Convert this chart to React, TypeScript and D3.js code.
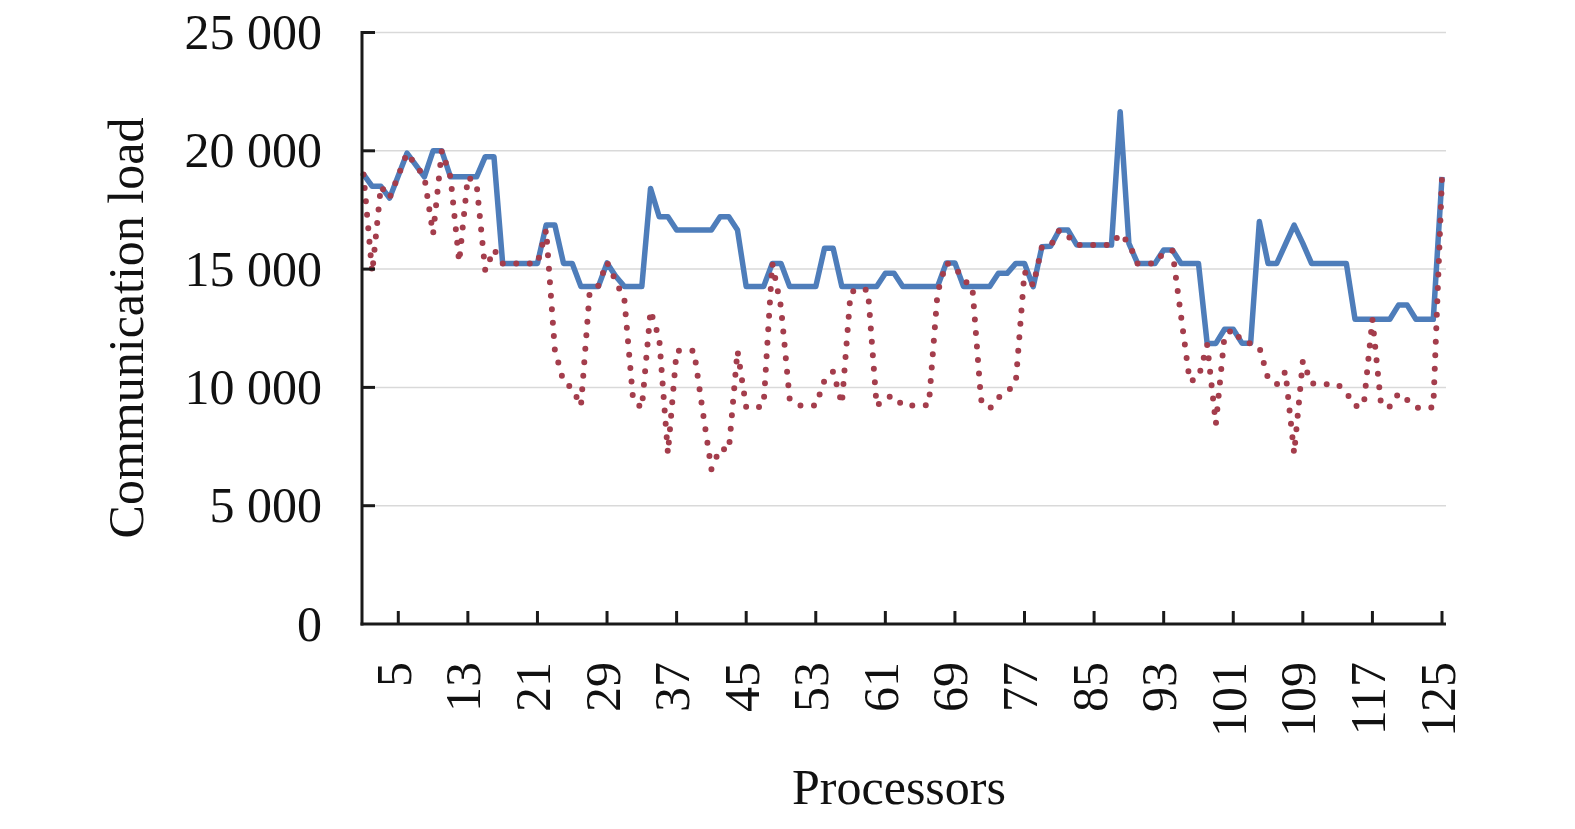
import * as d3 from 'd3'
import { useEffect, useRef } from 'react'

// y axis ticks and x tick labels (processor numbers)
const yTicks = [0, 5000, 10000, 15000, 20000, 25000];
const xTickLabels = [5, 13, 21, 29, 37, 45, 53, 61, 69, 77, 85, 93, 101, 109, 117, 125];

// communication load per processor (1..125)
const solidLoad = [
    19000, 18500, 18500, 18000, 18950, 19900, 19400, 18900, 20000, 20000,
    18900, 18900, 18900, 18900, 19750, 19750, 15240, 15240, 15240, 15240,
    15240, 16860, 16860, 15240, 15240, 14260, 14260, 14260, 15260, 14700,
    14260, 14260, 14260, 18410, 17210, 17210, 16650, 16650, 16650, 16650,
    16650, 17210, 17210, 16650, 14260, 14260, 14260, 15240, 15240, 14260,
    14260, 14260, 14260, 15880, 15880, 14260, 14260, 14260, 14260, 14260,
    14820, 14820, 14260, 14260, 14260, 14260, 14260, 15260, 15260, 14260,
    14260, 14260, 14260, 14820, 14820, 15240, 15240, 14260, 15940, 15970,
    16650, 16650, 16020, 16020, 16020, 16020, 16020, 21650, 16090, 15240,
    15240, 15240, 15810, 15810, 15240, 15240, 15240, 11860, 11860, 12460,
    12460, 11870, 11870, 17010, 15240, 15240, 16050, 16860, 16090, 15240,
    15240, 15240, 15240, 15240, 12880, 12880, 12880, 12880, 12880, 13480,
    13480, 12880, 12880, 12880, 18900,
];

const dottedLoad = [
    19000, 14850, 18500, 18000, 18950, 19900, 19400, 18900, 16480, 20000,
    18900, 15300, 18900, 18600, 14930, 15830, 15240, 15240, 15240, 15240,
    15240, 16650, 11580, 10240, 9960, 9210, 14020, 14300, 15290, 14500,
    13690, 9470, 9120, 13240, 12070, 7210, 11550, 11550, 11550, 9000,
    6540, 7440, 7330, 11550, 9160, 9120, 9240, 15240, 13400, 9500,
    9230, 9230, 9230, 10290, 10670, 9300, 14000, 14200, 14100, 9210,
    9570, 9640, 9230, 9230, 9230, 9260, 14000, 15260, 15100, 14540,
    14260, 9470, 9100, 9570, 9780, 10240, 14900, 14300, 15940, 15970,
    16650, 16400, 16020, 16020, 16020, 16020, 16020, 16500, 16090, 15240,
    15240, 15240, 15700, 15780, 13000, 10250, 10400, 11800, 8450, 12200,
    12460, 11930, 11860, 11700, 10380, 10130, 10670, 7210, 11120, 10170,
    10130, 10130, 10130, 9780, 9210, 9240, 12880, 9240, 9190, 9750,
    9470, 9150, 9100, 9160, 18880,
];

const App = () => {
    const svgRef = useRef<SVGSVGElement>(null);

    useEffect(() => {
        const svg = d3.select(svgRef.current);
        svg.selectAll('*').remove();

        const font = '"Liberation Serif", "Times New Roman", serif';
        const left = 362;
        const right = 1446;
        const bottom = 624;

        const x = d3.scaleLinear()
            .domain([1, solidLoad.length])
            .range([363.5, 1442]);

        const y = d3.scaleLinear()
            .domain([0, 25000])
            .range([bottom, 32.5]);

        // gridlines
        svg.append('g')
            .selectAll('line')
            .data(yTicks.slice(1))
            .join('line')
            .attr('x1', left)
            .attr('x2', right)
            .attr('y1', d => y(d))
            .attr('y2', d => y(d))
            .attr('stroke', '#d9d9d9')
            .attr('stroke-width', 1.5);

        const line = d3.line<number>()
            .x((_, i) => x(i + 1))
            .y(d => y(d));

        // solid series (blue)
        svg.append('path')
            .datum(solidLoad)
            .attr('fill', 'none')
            .attr('stroke', '#4e7dba')
            .attr('stroke-width', 5.5)
            .attr('stroke-linejoin', 'round')
            .attr('d', line);

        // dotted series (red)
        svg.append('path')
            .datum(dottedLoad)
            .attr('fill', 'none')
            .attr('stroke', '#a43d4c')
            .attr('stroke-width', 6)
            .attr('stroke-linecap', 'round')
            .attr('stroke-dasharray', '0 13.5')
            .attr('d', line);

        // axes
        svg.append('line')
            .attr('x1', left).attr('x2', left)
            .attr('y1', y(25000) - 1.5).attr('y2', bottom + 1.5)
            .attr('stroke', '#1a1a1a').attr('stroke-width', 3);
        svg.append('line')
            .attr('x1', left - 1.5).attr('x2', right)
            .attr('y1', bottom).attr('y2', bottom)
            .attr('stroke', '#1a1a1a').attr('stroke-width', 3);

        // y ticks (inside) and labels
        svg.append('g')
            .selectAll('line')
            .data(yTicks.slice(1))
            .join('line')
            .attr('x1', left)
            .attr('x2', left + 13)
            .attr('y1', d => y(d))
            .attr('y2', d => y(d))
            .attr('stroke', '#1a1a1a')
            .attr('stroke-width', 3);

        svg.append('g')
            .selectAll('text')
            .data(yTicks)
            .join('text')
            .attr('x', 322)
            .attr('y', d => y(d))
            .attr('dy', '0.33em')
            .attr('text-anchor', 'end')
            .attr('font-family', font)
            .attr('font-size', 50)
            .attr('fill', '#111')
            .text(d => d === 0 ? '0' : d3.format(',')(d).replace(',', ' '));

        // x ticks (inside) and rotated labels
        svg.append('g')
            .selectAll('line')
            .data(xTickLabels)
            .join('line')
            .attr('x1', d => x(d))
            .attr('x2', d => x(d))
            .attr('y1', bottom)
            .attr('y2', bottom - 13)
            .attr('stroke', '#1a1a1a')
            .attr('stroke-width', 3);

        svg.append('g')
            .selectAll('text')
            .data(xTickLabels)
            .join('text')
            .attr('transform', d => `translate(${x(d)},662) rotate(-90)`)
            .attr('dy', '0.25em')
            .attr('text-anchor', 'end')
            .attr('font-family', font)
            .attr('font-size', 50)
            .attr('fill', '#111')
            .text(d => d);

        // axis titles
        svg.append('text')
            .attr('x', 899)
            .attr('y', 804)
            .attr('text-anchor', 'middle')
            .attr('font-family', font)
            .attr('font-size', 50)
            .attr('fill', '#111')
            .text('Processors');

        svg.append('text')
            .attr('transform', 'translate(143,328) rotate(-90)')
            .attr('text-anchor', 'middle')
            .attr('font-family', font)
            .attr('font-size', 50)
            .attr('fill', '#111')
            .text('Communication load');
    }, []);

    return (
        <svg
            ref={svgRef}
            width={1575}
            height={829}
            style={{ position: 'absolute', left: 0, top: 0, background: '#fff' }}
        />
    );
};

export default App;
